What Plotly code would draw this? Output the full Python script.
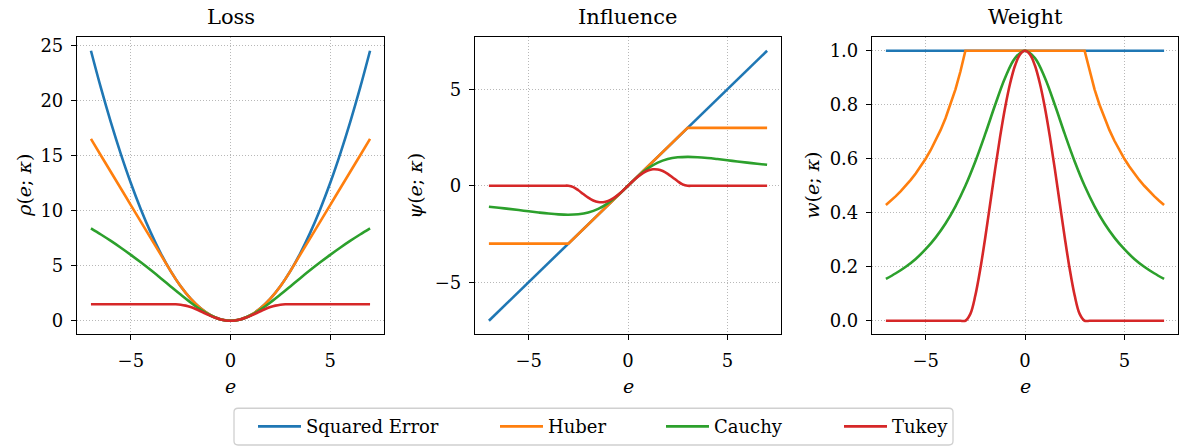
import plotly.graph_objects as go

# ---------------- data ----------------
series_names = ["Squared Error", "Huber", "Cauchy", "Tukey"]
colors = ["#1f77b4", "#ff7f0e", "#2ca02c", "#d62728"]

x_grid = [-7.0, -6.5, -6.0, -5.5, -5.0, -4.5, -4.0, -3.5, -3.0, -2.5, -2.0, -1.5, -1.0, -0.5, 0.0,
          0.5, 1.0, 1.5, 2.0, 2.5, 3.0, 3.5, 4.0, 4.5, 5.0, 5.5, 6.0, 6.5, 7.0]
x_tukey = [-7.0, -6.0, -5.0, -4.0, -3.5, -3.25, -3.0, -2.75, -2.5, -2.25, -2.0, -1.75, -1.5, -1.25, -1.0,
           -0.75, -0.5, -0.25, 0.0, 0.25, 0.5, 0.75, 1.0, 1.25, 1.5, 1.75, 2.0, 2.25, 2.5, 2.75, 3.0,
           3.25, 3.5, 4.0, 5.0, 6.0, 7.0]
x_line = [-7.0, 7.0]
x_huber_infl = [-7.0, -3.0, 3.0, 7.0]
x_huber_w = [-7.0, -6.75, -6.5, -6.25, -6.0, -5.75, -5.5, -5.25, -5.0, -4.75, -4.5, -4.25, -4.0, -3.75,
             -3.5, -3.25, -3.0, 3.0, 3.25, 3.5, 3.75, 4.0, 4.25, 4.5, 4.75, 5.0, 5.25, 5.5, 5.75, 6.0,
             6.25, 6.5, 6.75, 7.0]

# Loss rho(e; kappa)
loss_se = [24.5, 21.125, 18.0, 15.125, 12.5, 10.125, 8.0, 6.125, 4.5, 3.125, 2.0, 1.125, 0.5, 0.125, 0.0,
           0.125, 0.5, 1.125, 2.0, 3.125, 4.5, 6.125, 8.0, 10.125, 12.5, 15.125, 18.0, 21.125, 24.5]
loss_huber = [16.5, 15.0, 13.5, 12.0, 10.5, 9.0, 7.5, 6.0, 4.5, 3.125, 2.0, 1.125, 0.5, 0.125, 0.0,
              0.125, 0.5, 1.125, 2.0, 3.125, 4.5, 6.0, 7.5, 9.0, 10.5, 12.0, 13.5, 15.0, 16.5]
loss_cauchy = [8.385, 7.828, 7.243, 6.627, 5.981, 5.304, 4.597, 3.866, 3.119, 2.373, 1.655, 1.004, 0.474, 0.123, 0.0,
               0.123, 0.474, 1.004, 1.655, 2.373, 3.119, 3.866, 4.597, 5.304, 5.981, 6.627, 7.243, 7.828, 8.385]
loss_tukey = [1.5, 1.5, 1.5, 1.5, 1.5, 1.5, 1.5, 1.494, 1.457, 1.374, 1.243, 1.069, 0.867, 0.653, 0.447,
              0.264, 0.122, 0.031, 0.0, 0.031, 0.122, 0.264, 0.447, 0.653, 0.867, 1.069, 1.243, 1.374, 1.457,
              1.494, 1.5, 1.5, 1.5, 1.5, 1.5, 1.5, 1.5]

# Influence psi(e; kappa)
infl_se = [-7.0, 7.0]
infl_huber = [-3.0, -3.0, 3.0, 3.0]
infl_cauchy = [-1.086, -1.141, -1.2, -1.261, -1.324, -1.385, -1.44, -1.482, -1.5, -1.475, -1.385, -1.2, -0.9, -0.486, 0.0,
               0.486, 0.9, 1.2, 1.385, 1.475, 1.5, 1.482, 1.44, 1.385, 1.324, 1.261, 1.2, 1.141, 1.086]
infl_tukey = [0.0, 0.0, 0.0, 0.0, 0.0, 0.0, 0.0, -0.070, -0.233, -0.431, -0.617, -0.762, -0.844, -0.854, -0.790,
              -0.659, -0.473, -0.247, 0.0, 0.247, 0.473, 0.659, 0.790, 0.854, 0.844, 0.762, 0.617, 0.431, 0.233,
              0.070, 0.0, 0.0, 0.0, 0.0, 0.0, 0.0, 0.0]

# Weight w(e; kappa)
weight_se = [1.0, 1.0]
weight_huber = [0.4286, 0.4444, 0.4615, 0.48, 0.5, 0.5217, 0.5455, 0.5714, 0.6, 0.6316, 0.6667, 0.7059, 0.75, 0.8,
                0.8571, 0.9231, 1.0, 1.0, 0.9231, 0.8571, 0.8, 0.75, 0.7059, 0.6667, 0.6316, 0.6, 0.5714, 0.5455,
                0.5217, 0.5, 0.48, 0.4615, 0.4444, 0.4286]
weight_cauchy = [0.155, 0.176, 0.2, 0.229, 0.265, 0.308, 0.36, 0.424, 0.5, 0.590, 0.692, 0.8, 0.9, 0.973, 1.0,
                 0.973, 0.9, 0.8, 0.692, 0.590, 0.5, 0.424, 0.36, 0.308, 0.265, 0.229, 0.2, 0.176, 0.155]
weight_tukey = [0.0, 0.0, 0.0, 0.0, 0.0, 0.0, 0.0, 0.0255, 0.0934, 0.1914, 0.3086, 0.4352, 0.5625, 0.6829, 0.7901,
                0.8789, 0.9452, 0.9862, 1.0, 0.9862, 0.9452, 0.8789, 0.7901, 0.6829, 0.5625, 0.4352, 0.3086, 0.1914,
                0.0934, 0.0255, 0.0, 0.0, 0.0, 0.0, 0.0, 0.0, 0.0]

panel_titles = ["Loss", "Influence", "Weight"]
y_titles = ["<i>ρ</i>(<i>e</i>; <i>κ</i>)", "<i>ψ</i>(<i>e</i>; <i>κ</i>)", "<i>w</i>(<i>e</i>; <i>κ</i>)"]
x_ticks = [-5, 0, 5]
loss_ticks = [0, 5, 10, 15, 20, 25]
infl_ticks = [-5, 0, 5]
weight_ticks = [0.0, 0.2, 0.4, 0.6, 0.8, 1.0]

# ---------------- figure ----------------
FONT = "DejaVu Serif, Liberation Serif, serif"
W, H = 1183, 446
LW = 2.6

panels = [
    [(x_grid, loss_se, "spline"), (x_grid, loss_huber, "spline"),
     (x_grid, loss_cauchy, "spline"), (x_tukey, loss_tukey, "spline")],
    [(x_line, infl_se, "linear"), (x_huber_infl, infl_huber, "linear"),
     (x_grid, infl_cauchy, "spline"), (x_tukey, infl_tukey, "spline")],
    [(x_line, weight_se, "linear"), (x_huber_w, weight_huber, "linear"),
     (x_grid, weight_cauchy, "spline"), (x_tukey, weight_tukey, "spline")],
]
legend_ids = ["legend", "legend2", "legend3", "legend4"]

fig = go.Figure()
for p, series in enumerate(panels):
    ax = "" if p == 0 else str(p + 1)
    for s, (xs, ys, shape) in enumerate(series):
        fig.add_trace(go.Scatter(
            x=xs, y=ys, mode="lines", name=series_names[s],
            line=dict(color=colors[s], width=LW, shape=shape),
            xaxis="x" + ax, yaxis="y" + ax,
            showlegend=(p == 0), legendgroup=series_names[s], legend=legend_ids[s],
        ))

x_dom_px = [(77, 384), (475, 781), (872, 1178)]
y_top_px, y_bot_px = 34.5, 333.5
y_dom = [(H - y_bot_px) / H, (H - y_top_px) / H]

axis_common = dict(
    showline=True, linecolor="black", linewidth=1.2, mirror=True,
    ticks="outside", ticklen=5, tickwidth=1.1, tickcolor="black",
    showgrid=True, gridcolor="#b8b8b8", griddash="1px,2px", gridwidth=1,
    zeroline=False, tickfont=dict(family=FONT, size=18, color="black"),
)

y_ranges = [[-1.225, 25.725], [-7.7, 7.7], [-0.05, 1.05]]
y_tickvals = [loss_ticks, infl_ticks, weight_ticks]
y_fmt = ["d", "d", ".1f"]

layout = dict(
    width=W, height=H, margin=dict(l=0, r=0, t=0, b=0),
    paper_bgcolor="white", plot_bgcolor="white",
    font=dict(family=FONT, color="black"),
)

# legend entries: one legend per series, placed in a row inside a shared frame
legend_line_start_px = [258, 500, 666, 844]
legend_center_y_px = 426.5
for s, lid in enumerate(legend_ids):
    layout[lid] = dict(orientation="v", x=(legend_line_start_px[s] - 5) / W, xanchor="left",
                       y=(H - legend_center_y_px) / H, yanchor="middle",
                       borderwidth=0, bgcolor="rgba(0,0,0,0)", itemwidth=43,
                       font=dict(family=FONT, size=18, color="black"))

# rounded legend frame (paper pixels converted to paper fraction)
bx0, bx1, by0, by1, r = 234, 953, 408, 445, 4
def px(x):
    return x / W
def py(y):
    return (H - y) / H
frame_path = (f"M {px(bx0 + r)},{py(by0)} L {px(bx1 - r)},{py(by0)} "
              f"Q {px(bx1)},{py(by0)} {px(bx1)},{py(by0 + r)} L {px(bx1)},{py(by1 - r)} "
              f"Q {px(bx1)},{py(by1)} {px(bx1 - r)},{py(by1)} L {px(bx0 + r)},{py(by1)} "
              f"Q {px(bx0)},{py(by1)} {px(bx0)},{py(by1 - r)} L {px(bx0)},{py(by0 + r)} "
              f"Q {px(bx0)},{py(by0)} {px(bx0 + r)},{py(by0)} Z")
layout["shapes"] = [dict(type="path", xref="paper", yref="paper", path=frame_path,
                         line=dict(color="#d0d0d0", width=1.3), fillcolor="rgba(0,0,0,0)")]

annotations = []
for p in range(3):
    ax = "" if p == 0 else str(p + 1)
    x0, x1 = x_dom_px[p]
    layout["xaxis" + ax] = dict(axis_common, domain=[x0 / W, x1 / W], range=[-7.7, 7.7],
                                tickvals=x_ticks, anchor="y" + ax, ticklabelstandoff=5)
    layout["yaxis" + ax] = dict(axis_common, domain=y_dom, range=y_ranges[p],
                                tickvals=y_tickvals[p], tickformat=y_fmt[p], anchor="x" + ax,
                                ticklabelstandoff=4)
    xc = (x0 + x1) / 2 / W
    annotations.append(dict(text=panel_titles[p], x=xc, y=(H - 14) / H, xref="paper", yref="paper",
                            xanchor="center", yanchor="middle", showarrow=False,
                            font=dict(family=FONT, size=21, color="black")))
    annotations.append(dict(text="<i>e</i>", x=xc, y=(H - 386) / H, xref="paper", yref="paper",
                            xanchor="center", yanchor="middle", showarrow=False,
                            font=dict(family=FONT, size=19, color="black")))
ytitle_x = [24, 415, 812]
for p in range(3):
    annotations.append(dict(text=y_titles[p], x=ytitle_x[p] / W, y=(H - 184) / H, xref="paper", yref="paper",
                            xanchor="center", yanchor="middle", showarrow=False, textangle=-90,
                            font=dict(family=FONT, size=19, color="black")))
layout["annotations"] = annotations

fig.update_layout(layout)
fig.write_html("out.html")
